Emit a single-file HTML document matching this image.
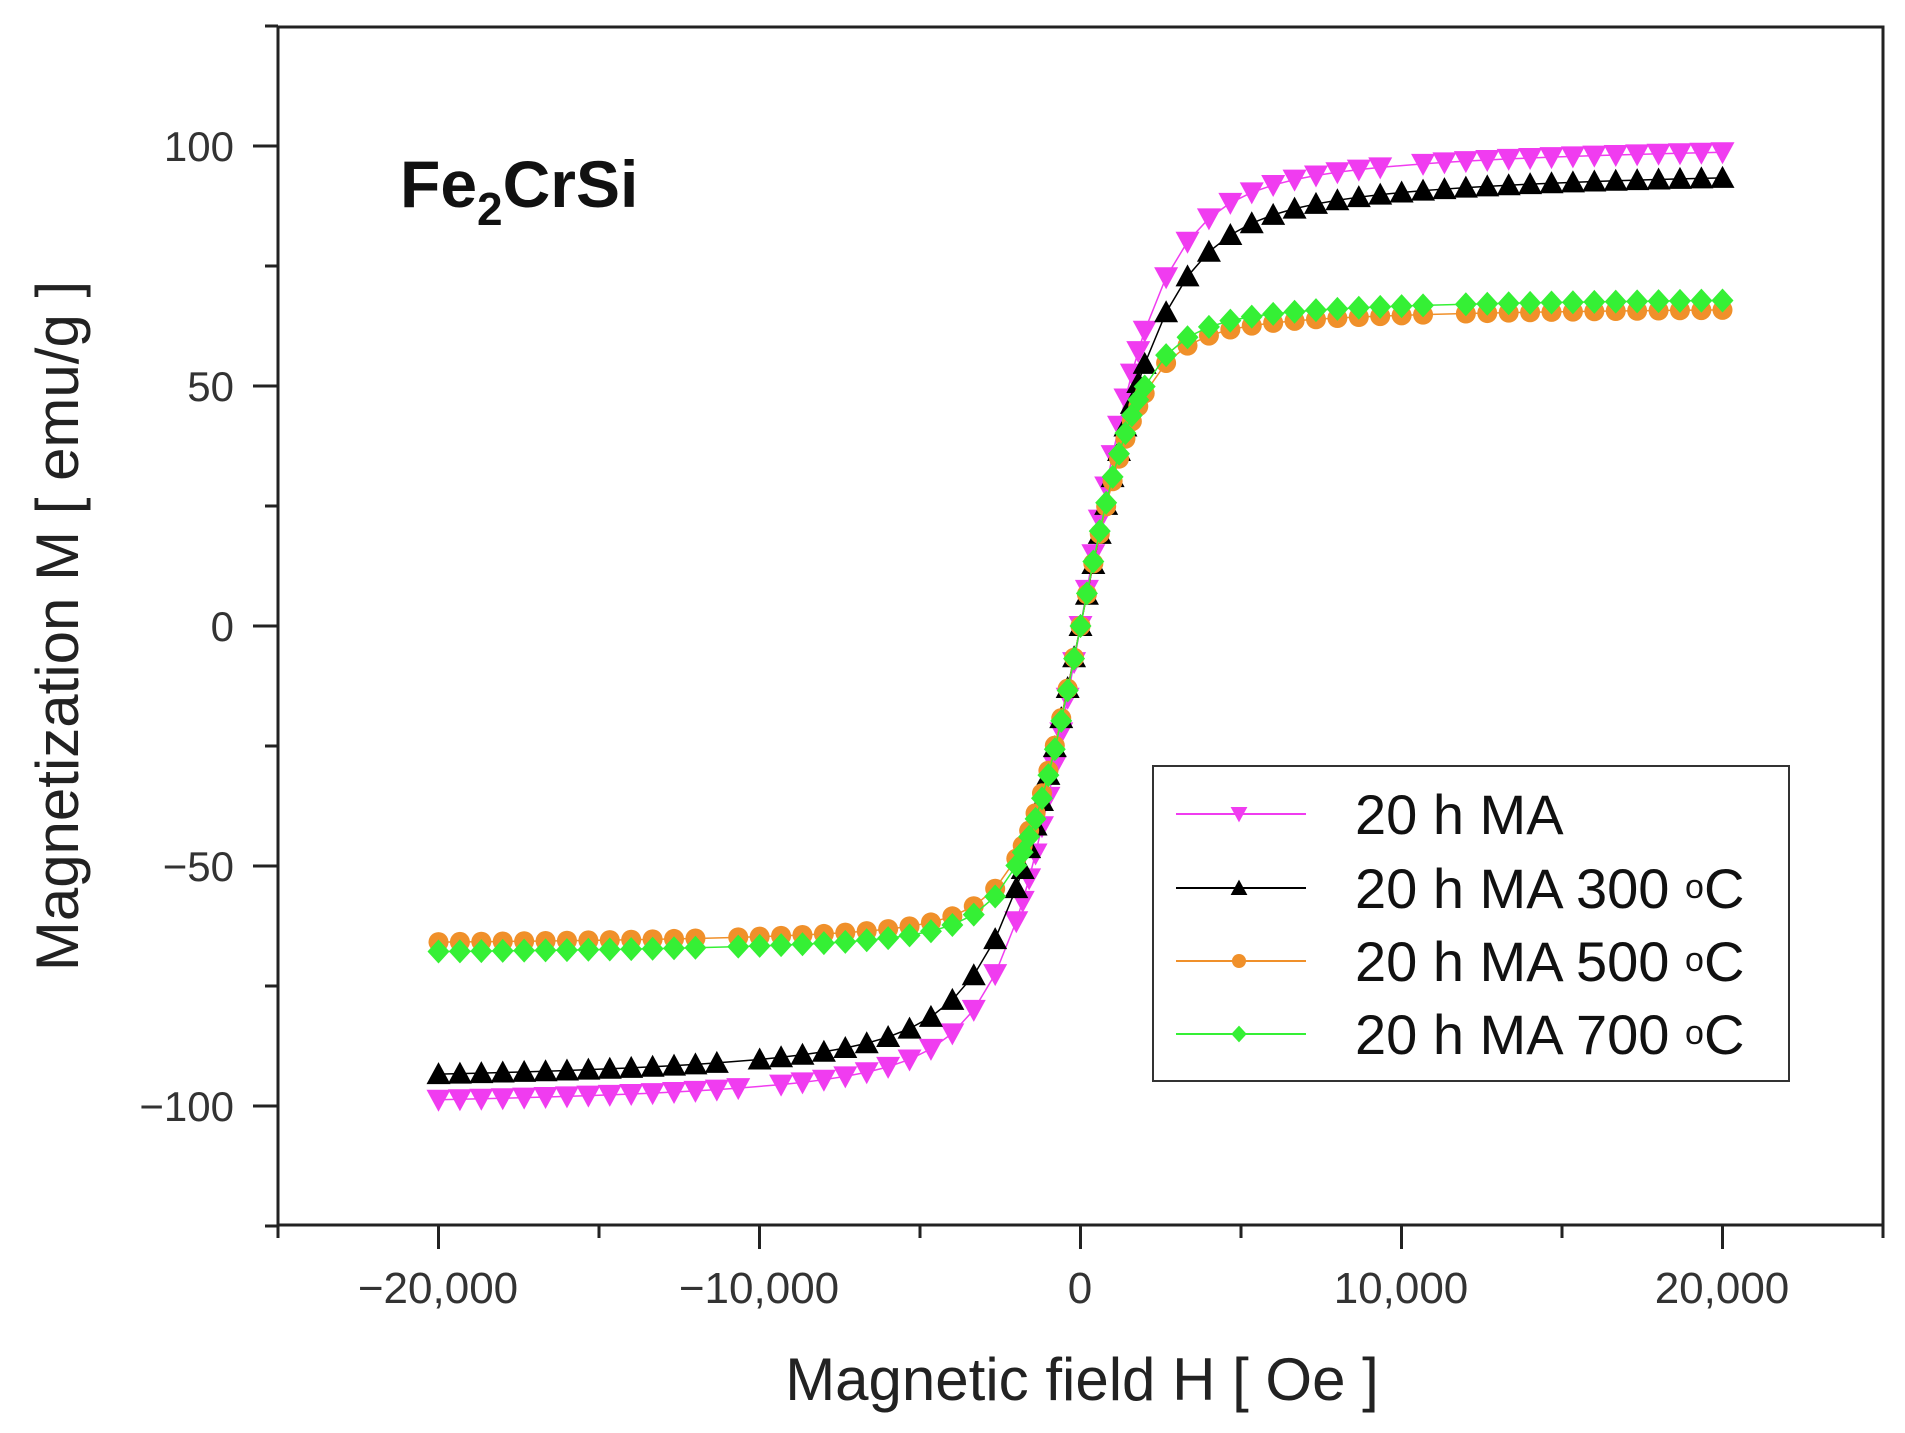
<!DOCTYPE html>
<html><head><meta charset="utf-8"><style>
html,body{margin:0;padding:0;background:#fff;}
svg{display:block;}
text{font-family:"Liberation Sans",Arial,sans-serif;}
</style></head><body>
<svg id="s" width="1905" height="1433" viewBox="0 0 1905 1433" xmlns="http://www.w3.org/2000/svg">
<rect width="1905" height="1433" fill="#fff"/>
<g id="data"></g>
<rect x="278" y="27" width="1605" height="1198" fill="none" stroke="#222" stroke-width="3"/>
<g stroke="#222" stroke-width="3" id="ticks"></g>
<g font-size="42" fill="#333" text-anchor="end">
<text x="234" y="161">100</text>
<text x="234" y="401">50</text>
<text x="234" y="641">0</text>
<text x="234" y="881">−50</text>
<text x="234" y="1121">−100</text>
</g>
<g font-size="44" fill="#333" text-anchor="middle">
<text x="438" y="1303">−20,000</text>
<text x="759" y="1303">−10,000</text>
<text x="1080" y="1303">0</text>
<text x="1401" y="1303">10,000</text>
<text x="1722" y="1303">20,000</text>
</g>
<text x="1082" y="1400" font-size="60" fill="#222" text-anchor="middle">Magnetic field H [ Oe ]</text>
<text transform="translate(78,626) rotate(-90)" font-size="60" fill="#222" text-anchor="middle">Magnetization M [ emu/g ]</text>
<text x="400" y="207" font-size="66" font-weight="bold" fill="#111">Fe<tspan font-size="46" dy="18">2</tspan><tspan dy="-18">CrSi</tspan></text>
<rect x="1153" y="766" width="636" height="315" fill="#fff" stroke="#333" stroke-width="2"/>
<g id="leg"></g>
<g font-size="56" fill="#111">
<text x="1355" y="834">20 h MA</text>
<text x="1355" y="908">20 h MA 300 <tspan font-size="34" dy="-10">o</tspan><tspan dy="10">C</tspan></text>
<text x="1355" y="981">20 h MA 500 <tspan font-size="34" dy="-10">o</tspan><tspan dy="10">C</tspan></text>
<text x="1355" y="1054">20 h MA 700 <tspan font-size="34" dy="-10">o</tspan><tspan dy="10">C</tspan></text>
</g>
</svg>
<script>
const NS="http://www.w3.org/2000/svg";
function el(t,a,p){const e=document.createElementNS(NS,t);for(const k in a)e.setAttribute(k,a[k]);p.appendChild(e);return e;}
const X=h=>1080.5+h*0.0321, Y=v=>626-4.8*v;
const tk=document.getElementById('ticks');
for(let v=-125;v<=125;v+=25){const maj=v%50==0;el('line',{x1:maj?253:265,x2:278,y1:Y(v),y2:Y(v)},tk);}
for(let h=-25000;h<=25000;h+=5000){const maj=h%10000==0;el('line',{y1:1225,y2:maj?1249:1238,x1:X(h),x2:X(h)},tk);}
function g(x){return 2/Math.PI*Math.atan(x);}
function f(H,S){return S.Ms*(S.a*Math.tanh(H/S.h1)+(1-S.a)*g(H/S.h2));}
const series=[
 {c:"#f03cf0",m:"down",Ms:101.5,a:0.65,h1:2300,h2:2500,gaps:[[9600,10300],[-10200,-9500]]},
 {c:"#000",m:"up",Ms:96.5,a:0.62,h1:2500,h2:2700,gaps:[[-11300,-10600]]},
 {c:"#f0902a",m:"circ",Ms:67,a:0.7,h1:1800,h2:1800,gaps:[[-11900,-11300],[11300,11900]]},
 {c:"#35f035",m:"diam",Ms:69,a:0.7,h1:1800,h2:1800,gaps:[[-11900,-11300],[11300,11900]]}
];
const Hs=[];
for(let h=-20000;h<-2000;h+=667)Hs.push(h);
for(let h=-2000;h<2000;h+=200)Hs.push(h);
for(let h=2000;h<=20001;h+=667)Hs.push(Math.min(h,20000));
Hs.push(20000);
const D=document.getElementById('data');
function mk(t,x,y,c,p,s){s=s||1;
 if(t=="down")el('polygon',{points:`${x-12*s},${y-10*s} ${x+12*s},${y-10*s} ${x},${y+12*s}`,fill:c},p);
 else if(t=="up")el('polygon',{points:`${x-12*s},${y+10*s} ${x+12*s},${y+10*s} ${x},${y-12*s}`,fill:c},p);
 else if(t=="circ")el('circle',{cx:x,cy:y,r:10*s,fill:c},p);
 else el('polygon',{points:`${x},${y-12*s} ${x+11*s},${y} ${x},${y+12*s} ${x-11*s},${y}`,fill:c},p);}
series.forEach(S=>{
 const pts=Hs.filter(h=>!S.gaps.some(g=>h>g[0]&&h<g[1])).map(h=>[X(h),Y(f(h,S))]);
 el('polyline',{points:pts.map(p=>p.join(',')).join(' '),fill:'none',stroke:S.c,'stroke-width':1.5},D);
 pts.forEach(p=>mk(S.m,p[0],p[1],S.c,D));
});
const L=document.getElementById('leg');
[814,888,961,1034].forEach((y,i)=>{const S=series[i];
 el('line',{x1:1176,x2:1306,y1:y,y2:y,stroke:S.c,'stroke-width':2},L);mk(S.m,1239,y,S.c,L,0.7);});
</script>
</body></html>
